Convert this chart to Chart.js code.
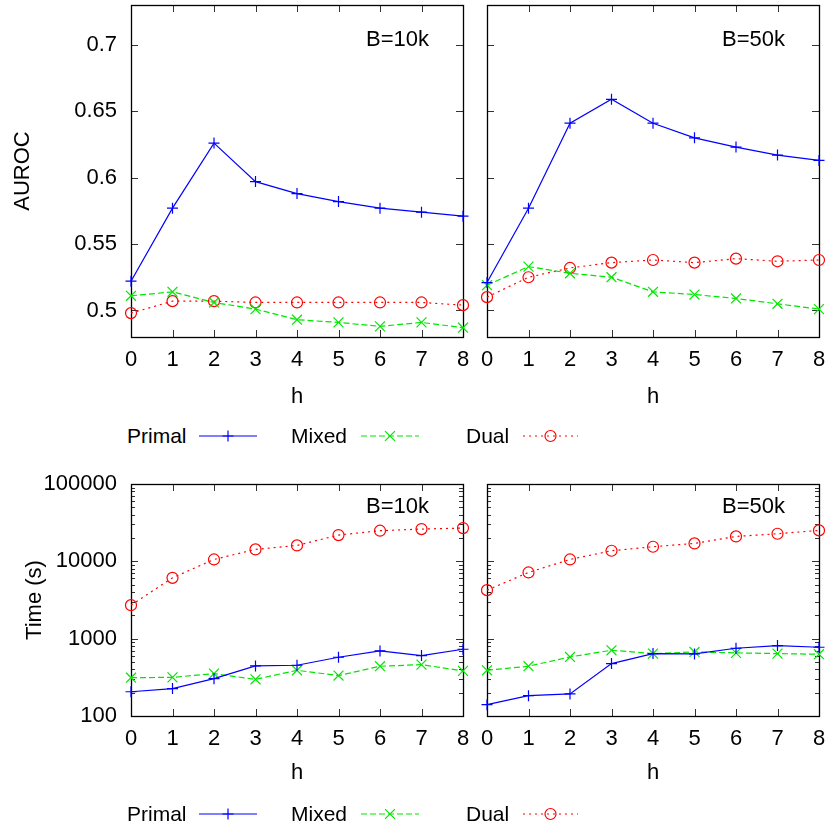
<!DOCTYPE html>
<html>
<head>
<meta charset="utf-8">
<script src="https://cdn.jsdelivr.net/npm/chart.js@4.4.1/dist/chart.umd.min.js"></script>
<style>
  html, body { margin:0; padding:0; background:#fff; }
  body { width:828px; height:831px; position:relative; overflow:hidden; font-family:"Liberation Sans", Arial, Helvetica, sans-serif; }
  canvas { position:absolute; }
  .leg { position:absolute; font-size:21px; line-height:24px; color:#000; white-space:nowrap; }
  svg { position:absolute; overflow:visible; }
</style>
</head>
<body>
<canvas id="c1" width="470" height="410" style="left:0;top:0;width:470px;height:410px"></canvas>
<canvas id="c2" width="358" height="410" style="left:470px;top:0;width:358px;height:410px"></canvas>
<canvas id="c3" width="470" height="330" style="left:0;top:460px;width:470px;height:330px"></canvas>
<canvas id="c4" width="358" height="330" style="left:470px;top:460px;width:358px;height:330px"></canvas>
<div id="legends"></div>
<script>
// ---------------- data ----------------
const hValues = [0, 1, 2, 3, 4, 5, 6, 7, 8];
const seriesNames = ['Primal', 'Mixed', 'Dual'];

const auroc10kPrimal = [0.522, 0.577, 0.626, 0.597, 0.588, 0.582, 0.577, 0.574, 0.571];
const auroc10kMixed  = [0.511, 0.514, 0.506, 0.501, 0.493, 0.491, 0.488, 0.491, 0.487];
const auroc10kDual   = [0.498, 0.507, 0.507, 0.506, 0.506, 0.506, 0.506, 0.506, 0.504];

const auroc50kPrimal = [0.521, 0.577, 0.641, 0.659, 0.641, 0.630, 0.623, 0.617, 0.613];
const auroc50kMixed  = [0.519, 0.533, 0.528, 0.525, 0.514, 0.512, 0.509, 0.505, 0.501];
const auroc50kDual   = [0.510, 0.525, 0.532, 0.536, 0.538, 0.536, 0.539, 0.537, 0.538];

const time10kPrimal = [206, 226, 304, 444, 453, 575, 695, 604, 730];
const time10kMixed  = [313, 316, 353, 298, 390, 333, 440, 462, 383];
const time10kDual   = [2710, 6120, 10580, 14260, 16060, 21860, 24880, 26130, 26930];

const time50kPrimal = [140, 183, 193, 476, 641, 635, 752, 814, 775];
const time50kMixed  = [390, 440, 581, 708, 641, 674, 655, 641, 629];
const time50kDual   = [4240, 7180, 10580, 13700, 15440, 17050, 20990, 22740, 25120];

const aurocTicks = [0.5, 0.55, 0.6, 0.65, 0.7];
const aurocTickLabels = ['0.5', '0.55', '0.6', '0.65', '0.7'];
const timeTicks = [100, 1000, 10000, 100000];
const timeTickLabels = ['100', '1000', '10000', '100000'];
const xTickLabels = ['0', '1', '2', '3', '4', '5', '6', '7', '8'];

// ---------------- styles ----------------
const FONT = "'Liberation Sans', Arial, Helvetica, sans-serif";
const styles = [
  { color: '#0000ff', dash: [], pointStyle: 'cross', radius: 5.5 },
  { color: '#00e600', dash: [6, 3], pointStyle: 'crossRot', radius: 7 },
  { color: '#ff0000', dash: [2, 4], pointStyle: 'circle', radius: 5.5 }
];

Chart.defaults.font.family = FONT;
Chart.defaults.font.size = 22;
Chart.defaults.color = '#000';

function ds(i, values) {
  const s = styles[i];
  return {
    label: seriesNames[i],
    data: hValues.map((h, k) => ({ x: h, y: values[k] })),
    borderColor: s.color,
    borderWidth: 1.2,
    borderDash: s.dash,
    pointStyle: s.pointStyle,
    pointRadius: s.radius,
    pointBorderColor: s.color,
    pointBackgroundColor: 'rgba(0,0,0,0)',
    pointBorderWidth: 1.2,
    tension: 0,
    fill: false,
    clip: false
  };
}

const framePlugin = {
  id: 'frame',
  beforeDatasetsDraw(chart) {
    const { ctx, chartArea: a, scales } = chart;
    const cfg = chart.options.plugins.frame;
    ctx.save();
    ctx.strokeStyle = '#333';
    ctx.lineWidth = 1;
    ctx.beginPath();
    scales.x.ticks.forEach(t => {
      const px = Math.round(scales.x.getPixelForValue(t.value)) + 0.5;
      ctx.moveTo(px, a.bottom); ctx.lineTo(px, a.bottom - 7);
      ctx.moveTo(px, a.top); ctx.lineTo(px, a.top + 7);
    });
    scales.y.ticks.forEach(t => {
      const py = Math.round(scales.y.getPixelForValue(t.value)) + 0.5;
      ctx.moveTo(a.left, py); ctx.lineTo(a.left + 7, py);
      ctx.moveTo(a.right, py); ctx.lineTo(a.right - 7, py);
    });
    if (cfg.log) {
      for (let d = 0; d < timeTicks.length - 1; d++) {
        for (let m = 2; m <= 9; m++) {
          const v = timeTicks[d] * m;
          const py = Math.round(scales.y.getPixelForValue(v)) + 0.5;
          ctx.moveTo(a.left, py); ctx.lineTo(a.left + 4, py);
          ctx.moveTo(a.right, py); ctx.lineTo(a.right - 4, py);
        }
      }
    }
    ctx.stroke();
    ctx.strokeStyle = '#000';
    ctx.lineWidth = 1.3;
    ctx.strokeRect(Math.round(a.left) + 0.5, Math.round(a.top) + 0.5, Math.round(a.right - a.left), Math.round(a.bottom - a.top));
    ctx.restore();
  },
  afterDraw(chart) {
    const { ctx, chartArea: a } = chart;
    const cfg = chart.options.plugins.frame;
    ctx.save();
    ctx.font = '22px ' + FONT;
    ctx.fillStyle = '#000';
    ctx.textAlign = 'right';
    ctx.textBaseline = 'middle';
    ctx.fillText(cfg.label, a.right - 34, a.top + cfg.labelDy);
    ctx.restore();
  }
};

function zeroPad(s) {
  s.paddingTop = 0; s.paddingBottom = 0; s.paddingLeft = 0; s.paddingRight = 0;
}

function makePanel(id, p) {
  return new Chart(document.getElementById(id), {
    type: 'line',
    data: { datasets: p.datasets },
    options: {
      responsive: false,
      animation: false,
      devicePixelRatio: 1,
      layout: { autoPadding: false, padding: { left: 0, right: p.padRight, top: p.padTop, bottom: 0 } },
      plugins: {
        legend: { display: false },
        tooltip: { enabled: false },
        frame: { label: p.label, labelDy: p.labelDy, log: p.log }
      },
      scales: {
        x: {
          type: 'linear', min: 0, max: 8,
          grid: { display: false, drawTicks: false, tickLength: 0 },
          border: { display: false },
          ticks: { padding: 10, autoSkip: false, maxRotation: 0, callback: (v, i) => xTickLabels[i] },
          title: { display: true, text: 'h', font: { size: 22 }, padding: { top: 0, bottom: p.hPad } },
          afterBuildTicks: s => { s.ticks = hValues.map(v => ({ value: v })); },
          afterFit: s => { s.height = p.xHeight; zeroPad(s); }
        },
        y: {
          type: p.log ? 'logarithmic' : 'linear',
          min: p.yMin, max: p.yMax,
          grid: { display: false, drawTicks: false, tickLength: 0 },
          border: { display: false },
          ticks: { display: p.showY, padding: 14, autoSkip: false, callback: (v, i) => p.tickLabels[i] },
          title: { display: p.showY, text: p.yTitle, font: { size: 22 }, padding: { top: p.yTitlePad, bottom: 0 } },
          afterBuildTicks: s => { s.ticks = p.ticks.map(v => ({ value: v })); },
          afterFit: s => { s.width = p.yWidth; zeroPad(s); }
        }
      }
    },
    plugins: [framePlugin]
  });
}

makePanel('c1', {
  datasets: [ds(0, auroc10kPrimal), ds(1, auroc10kMixed), ds(2, auroc10kDual)],
  padRight: 7, padTop: 5, xHeight: 73, hPad: 0, yWidth: 131, showY: true,
  yTitle: 'AUROC', yTitlePad: 10, yMin: 0.48, yMax: 0.73, log: false,
  ticks: aurocTicks, tickLabels: aurocTickLabels, label: 'B=10k', labelDy: 35
});
makePanel('c2', {
  datasets: [ds(0, auroc50kPrimal), ds(1, auroc50kMixed), ds(2, auroc50kDual)],
  padRight: 9, padTop: 5, xHeight: 73, hPad: 0, yWidth: 17, showY: false,
  yTitle: 'AUROC', yTitlePad: 10, yMin: 0.48, yMax: 0.73, log: false,
  ticks: aurocTicks, tickLabels: aurocTickLabels, label: 'B=50k', labelDy: 35
});
makePanel('c3', {
  datasets: [ds(0, time10kPrimal), ds(1, time10kMixed), ds(2, time10kDual)],
  padRight: 7, padTop: 24, xHeight: 74, hPad: 4, yWidth: 131, showY: true,
  yTitle: 'Time (s)', yTitlePad: 22, yMin: 100, yMax: 100000, log: true,
  ticks: timeTicks, tickLabels: timeTickLabels, label: 'B=10k', labelDy: 23
});
makePanel('c4', {
  datasets: [ds(0, time50kPrimal), ds(1, time50kMixed), ds(2, time50kDual)],
  padRight: 9, padTop: 24, xHeight: 74, hPad: 4, yWidth: 17, showY: false,
  yTitle: 'Time (s)', yTitlePad: 22, yMin: 100, yMax: 100000, log: true,
  ticks: timeTicks, tickLabels: timeTickLabels, label: 'B=50k', labelDy: 23
});

// ---------------- legends ----------------
const legendItems = [
  { textX: 127, x0: 199, x1: 257 },
  { textX: 291, x0: 361, x1: 419 },
  { textX: 466, x0: 523, x1: 578 }
];
function marker(i, cx, cy) {
  const s = styles[i], c = s.color, r = s.radius;
  if (s.pointStyle === 'cross')
    return `<path d="M${cx-r} ${cy}H${cx+r}M${cx} ${cy-r}V${cy+r}" stroke="${c}" stroke-width="1.2"/>`;
  if (s.pointStyle === 'crossRot') {
    const d = r * Math.SQRT1_2;
    return `<path d="M${cx-d} ${cy-d}L${cx+d} ${cy+d}M${cx+d} ${cy-d}L${cx-d} ${cy+d}" stroke="${c}" stroke-width="1.2"/>`;
  }
  return `<circle cx="${cx}" cy="${cy}" r="${r}" fill="none" stroke="${c}" stroke-width="1.2"/>`;
}
function buildLegend(cy) {
  const box = document.getElementById('legends');
  legendItems.forEach((it, i) => {
    const t = document.createElement('div');
    t.className = 'leg';
    t.textContent = seriesNames[i];
    t.style.left = it.textX + 'px';
    t.style.top = (cy - 12) + 'px';
    box.appendChild(t);
    const s = styles[i];
    const svgNS = 'http://www.w3.org/2000/svg';
    const svg = document.createElementNS(svgNS, 'svg');
    svg.setAttribute('width', '828'); svg.setAttribute('height', '831');
    svg.style.left = '0px'; svg.style.top = '0px';
    const mid = (it.x0 + it.x1) / 2;
    svg.innerHTML = `<line x1="${it.x0}" y1="${cy}" x2="${it.x1}" y2="${cy}" stroke="${s.color}" stroke-width="1.2" stroke-dasharray="${s.dash.length ? s.dash.join(',') : 'none'}"/>` + marker(i, mid, cy);
    box.appendChild(svg);
  });
}
buildLegend(436);
buildLegend(814);
</script>
</body>
</html>
